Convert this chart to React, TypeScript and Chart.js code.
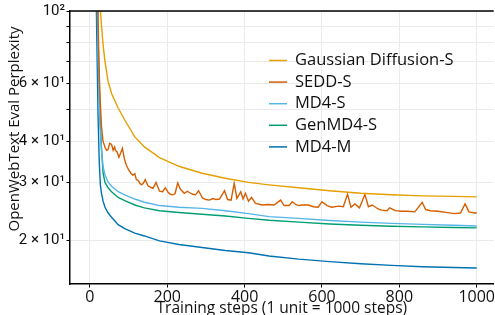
import React, { useEffect, useRef } from "react";
import { Chart, registerables } from "chart.js";

Chart.register(...registerables);

// Shared training-step grid for the smooth curves (1 unit = 1000 steps)
const steps = [15, 18, 21, 24, 27, 30, 34, 39, 47, 56, 73, 90, 116, 141, 180, 230, 290, 350, 410, 463, 540, 620, 700, 780, 860, 940, 1000];

const gaussianS = [400, 250, 170, 125, 101, 90, 79, 70, 61, 56, 50.6, 46.5, 41.3, 38.5, 35.7, 33.6, 32.0, 30.9, 30.0, 29.5, 28.9, 28.3, 27.8, 27.5, 27.3, 27.2, 27.1];
const md4S = [220, 120, 75, 52, 42, 37.5, 33.5, 31.6, 30.1, 29.2, 28.1, 27.5, 26.7, 26.1, 25.5, 25.2, 25.0, 24.6, 24.1, 23.6, 23.3, 22.95, 22.7, 22.5, 22.35, 22.2, 22.1];
const genMd4S = [240, 140, 85, 58, 45, 38, 32, 30.0, 28.9, 28.1, 27.0, 26.4, 25.6, 25.1, 24.6, 24.3, 24.0, 23.7, 23.3, 23.0, 22.7, 22.4, 22.2, 22.05, 21.95, 21.85, 21.8];
const md4M = [140, 80, 48, 35, 29.5, 27.8, 26.3, 25.2, 24.2, 23.5, 22.3, 21.7, 21.0, 20.6, 19.9, 19.4, 19.0, 18.6, 18.3, 17.9, 17.5, 17.2, 16.95, 16.75, 16.6, 16.5, 16.45];

// SEDD-S is noisy, so it has its own denser step grid
const seddSteps = [15, 18, 21, 24, 27, 30, 34, 39, 43, 47, 51, 56, 60, 64, 66, 70, 75, 80, 84, 89, 94, 100, 106, 111, 116, 120, 125, 129, 133, 138, 143, 150, 157, 163, 171, 180, 188, 195, 202, 208, 214, 220, 227, 234, 244, 252, 258, 266, 273, 281, 291, 300, 309, 318, 326, 335, 348, 356, 365, 373, 380, 390, 396, 402, 410, 418, 428, 446, 460, 476, 493, 502, 515, 523, 532, 540, 548, 565, 578, 590, 600, 613, 625, 643, 655, 666, 675, 685, 697, 711, 720, 730, 745, 754, 768, 775, 790, 805, 820, 840, 859, 868, 880, 900, 920, 943, 958, 970, 980, 994, 1000];
const seddValues = [300, 160, 95, 65, 52, 44.3, 40, 38.4, 37.6, 37.8, 39.5, 39.2, 37.6, 38.5, 37.5, 37.2, 35.8, 37.0, 38.1, 35.5, 33.9, 32.8, 32.0, 31.6, 31.9, 30.6, 30.4, 29.8, 29.5, 29.8, 30.6, 29.3, 29.0, 28.8, 30.0, 28.2, 28.1, 28.9, 28.0, 27.6, 27.5, 27.7, 29.9, 28.6, 27.8, 28.2, 27.9, 27.6, 27.5, 28.3, 26.9, 26.6, 26.5, 26.8, 26.6, 26.7, 28.3, 26.6, 26.5, 29.8, 26.8, 28.1, 26.7, 27.8, 26.3, 27.0, 25.9, 25.6, 25.7, 25.6, 26.5, 25.5, 25.5, 26.2, 25.7, 25.5, 25.6, 25.6, 25.3, 25.2, 26.2, 25.5, 25.2, 25.4, 25.3, 27.6, 25.2, 25.8, 25.1, 27.6, 25.3, 25.6, 24.9, 24.7, 24.6, 25.1, 24.6, 24.5, 24.5, 24.4, 26.1, 24.8, 24.6, 24.5, 24.3, 24.1, 24.2, 25.8, 24.4, 24.2, 24.2];

const seriesLabels = ["Gaussian Diffusion-S", "SEDD-S", "MD4-S", "GenMD4-S", "MD4-M"];
const seriesColors = ["#E69F00", "#D55E00", "#56B4E9", "#009E73", "#0072B2"];

const xTitle = "Training steps (1 unit = 1000 steps)";
const yTitle = "OpenWebText Eval Perplexity";

const xTickValues = [0, 200, 400, 600, 800, 1000];
const yTickValues = [20, 30, 40, 50, 60, 70, 80, 90, 100];
const yTickLabels = ["2 × 10¹", "3 × 10¹", "4 × 10¹", "", "6 × 10¹", "", "", "", "10²"];

const FONT = "'Open Sans'";
const TICK_FONT = "Roboto";
const TEXT = "#111";

const toPoints = (xs: number[], ys: number[]) => xs.map((x, i) => ({ x, y: ys[i] }));

const legendPlugin = {
  id: "customLegend",
  afterDraw(chart: any) {
    const { ctx, chartArea } = chart;
    ctx.save();
    ctx.font = `16.5px ${FONT}`;
    ctx.textBaseline = "middle";
    ctx.textAlign = "left";
    chart.data.datasets.forEach((ds: any, i: number) => {
      const y = chartArea.top + 49.5 + i * 21.6;
      const x0 = chartArea.left + 199;
      ctx.strokeStyle = ds.borderColor;
      ctx.lineWidth = 1.5;
      ctx.beginPath();
      ctx.moveTo(x0, y);
      ctx.lineTo(x0 + 18, y);
      ctx.stroke();
      ctx.fillStyle = TEXT;
      ctx.fillText(ds.label, x0 + 26, y);
    });
    ctx.restore();
  },
};

const framePlugin = {
  id: "frameAndTitles",
  afterDraw(chart: any) {
    const { ctx, chartArea } = chart;
    ctx.save();
    // top spine
    ctx.strokeStyle = "#000";
    ctx.lineWidth = 1.5;
    ctx.beginPath();
    ctx.moveTo(chartArea.left, chartArea.top);
    ctx.lineTo(chartArea.right, chartArea.top);
    ctx.stroke();
    // axis titles
    ctx.fillStyle = TEXT;
    ctx.textAlign = "center";
    ctx.textBaseline = "alphabetic";
    ctx.font = `15.5px ${FONT}`;
    ctx.fillText(xTitle, (chartArea.left + chartArea.right) / 2, chartArea.bottom + 29);
    ctx.font = `15px ${FONT}`;
    ctx.translate(chartArea.left - 51.5, chartArea.top + 118);
    ctx.rotate(-Math.PI / 2);
    ctx.fillText(yTitle, 0, 0);
    ctx.restore();
  },
};

export default function App() {
  const canvasRef = useRef<HTMLCanvasElement | null>(null);

  useEffect(() => {
    if (!canvasRef.current) return;
    const seriesData = [
      toPoints(steps, gaussianS),
      toPoints(seddSteps, seddValues),
      toPoints(steps, md4S),
      toPoints(steps, genMd4S),
      toPoints(steps, md4M),
    ];
    const chart = new Chart(canvasRef.current, {
      type: "line",
      data: {
        datasets: seriesLabels.map((label, i) => ({
          label,
          data: seriesData[i],
          borderColor: seriesColors[i],
          backgroundColor: seriesColors[i],
          borderWidth: 1.4,
          pointRadius: 0,
          tension: 0,
          fill: false,
        })),
      },
      options: {
        animation: false,
        responsive: true,
        maintainAspectRatio: false,
        layout: { padding: { top: 11, right: 0, left: 0, bottom: 0 } },
        plugins: {
          legend: { display: false },
          tooltip: { enabled: false },
        },
        scales: {
          x: {
            type: "linear",
            min: -51.5,
            max: 1044,
            afterBuildTicks: (scale: any) => {
              scale.ticks = xTickValues.map((v) => ({ value: v }));
            },
            afterFit: (scale: any) => {
              scale.height = 31;
            },
            ticks: {
              color: TEXT,
              font: { family: FONT, size: 16 },
              padding: 0,
              maxRotation: 0,
              callback: (v: any) => String(v),
            },
            grid: { color: "#ebebeb", lineWidth: 1, tickLength: 3.5, tickColor: "#000" },
            border: { display: true, color: "#000", width: 1.5 },
          },
          y: {
            type: "logarithmic",
            min: 14.7,
            max: 100,
            afterBuildTicks: (scale: any) => {
              scale.ticks = yTickValues.map((v) => ({ value: v }));
            },
            afterFit: (scale: any) => {
              scale.width = 70;
            },
            ticks: {
              color: TEXT,
              font: { family: TICK_FONT, size: 15 },
              padding: 1.5,
              autoSkip: false,
              callback: (v: any) => {
                const idx = yTickValues.indexOf(Number(v));
                return idx >= 0 ? yTickLabels[idx] : "";
              },
            },
            grid: { color: "#ebebeb", lineWidth: 1, tickLength: 3.5, tickColor: "#000" },
            border: { display: true, color: "#000", width: 1.5 },
          },
        },
      },
      plugins: [legendPlugin, framePlugin],
    });
    return () => chart.destroy();
  }, []);

  return (
    <div style={{ position: "fixed", left: 0, top: 0, width: 495, height: 315 }}>
      <canvas ref={canvasRef} />
    </div>
  );
}
